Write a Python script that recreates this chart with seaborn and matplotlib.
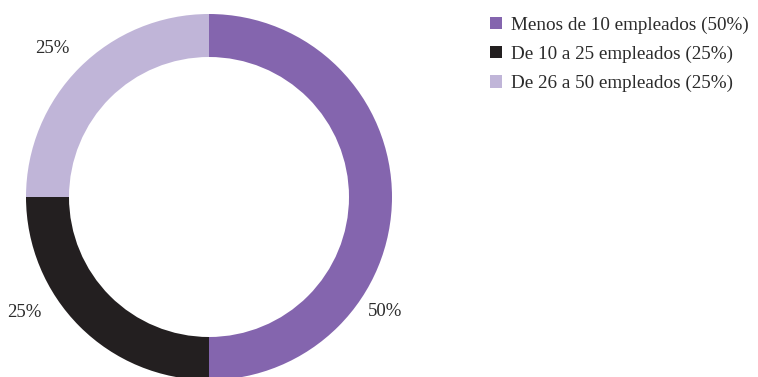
import matplotlib
matplotlib.use("Agg")
import matplotlib.pyplot as plt
import seaborn as sns
import numpy as np
from matplotlib.patches import Patch

sns.set_theme(style="white")
plt.rcParams["font.family"] = ["Liberation Serif", "DejaVu Serif"]

# Company size distribution
categories = ["Menos de 10 empleados", "De 10 a 25 empleados", "De 26 a 50 empleados"]
shares = [50, 25, 25]
colors = ["#8465AE", "#231F20", "#C0B5D8"]

# Label placement (angle in degrees, radius as fraction of outer radius)
label_angles = [-33, 212, 136.5]
label_radii = [1.15, 1.19, 1.18]

W, H = 758, 377
fig = plt.figure(figsize=(W / 100, H / 100), dpi=100)
cx, cy, r = 209, 197, 183
ax = fig.add_axes([(cx - r) / W, (H - cy - r) / H, 2 * r / W, 2 * r / H])

wedges, _ = ax.pie(
    shares,
    colors=colors,
    startangle=90,
    counterclock=False,
    radius=1.0,
    wedgeprops=dict(width=0.235, linewidth=0),
)
ax.set_xlim(-1, 1)
ax.set_ylim(-1, 1)
ax.set_aspect("equal")
ax.axis("off")

for val, ang, rad in zip(shares, label_angles, label_radii):
    t = np.deg2rad(ang)
    ax.text(rad * np.cos(t), rad * np.sin(t), f"{val}%",
            ha="center", va="center", fontsize=13.5, color="#2b2b2b",
            clip_on=False)

handles = [Patch(facecolor=c, edgecolor="none") for c in colors]
labels = [f"{c} ({s}%)" for c, s in zip(categories, shares)]
fig.legend(handles, labels, loc="upper left",
           bbox_to_anchor=(477 / W, 1 - 3 / H),
           frameon=False, fontsize=13.8, handlelength=0.62, handleheight=0.62,
           handletextpad=0.46, labelspacing=0.62, labelcolor="#2b2b2b",
           borderaxespad=0.3)

fig.savefig("out.png", dpi=100)
